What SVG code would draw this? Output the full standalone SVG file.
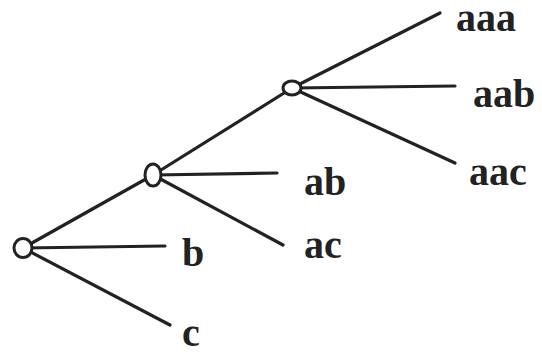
<svg xmlns="http://www.w3.org/2000/svg" width="542" height="354" viewBox="0 0 542 354">
<style>
.e{stroke:#222;stroke-width:3.2;fill:none;stroke-linecap:round}
.n{fill:#fff;stroke:#222;stroke-width:3}
.t{font-family:"Liberation Serif","Times New Roman",serif;font-weight:bold;font-size:40px;fill:#222}
</style>
<rect width="542" height="354" fill="#fff"/>
<g id="connectors">
<line class="e" x1="23" y1="248" x2="153" y2="175"/>
<line class="e" x1="23" y1="248" x2="165" y2="246"/>
<line class="e" x1="23" y1="248" x2="170" y2="325"/>
<line class="e" x1="153" y1="175" x2="292" y2="88"/>
<line class="e" x1="153" y1="175" x2="277" y2="173"/>
<line class="e" x1="153" y1="175" x2="283" y2="245"/>
<line class="e" x1="292" y1="88" x2="440" y2="13"/>
<line class="e" x1="292" y1="88" x2="455" y2="86"/>
<line class="e" x1="292" y1="88" x2="455" y2="163"/>
</g>
<g id="root"><ellipse class="n" cx="23" cy="248" rx="9" ry="9.5"/></g>
<g id="a"><ellipse class="n" cx="153" cy="175" rx="8" ry="11"/></g>
<g id="aa"><ellipse class="n" cx="292" cy="88" rx="9" ry="7"/></g>
<g id="b"><text class="t" x="182" y="266">b</text></g>
<g id="c"><text class="t" x="182" y="346">c</text></g>
<g id="ab"><text class="t" x="304" y="195">ab</text></g>
<g id="ac"><text class="t" x="304" y="258">ac</text></g>
<g id="aaa"><text class="t" x="456" y="31">aaa</text></g>
<g id="aab"><text class="t" x="473" y="107">aab</text></g>
<g id="aac"><text class="t" x="469" y="185">aac</text></g>
</svg>
